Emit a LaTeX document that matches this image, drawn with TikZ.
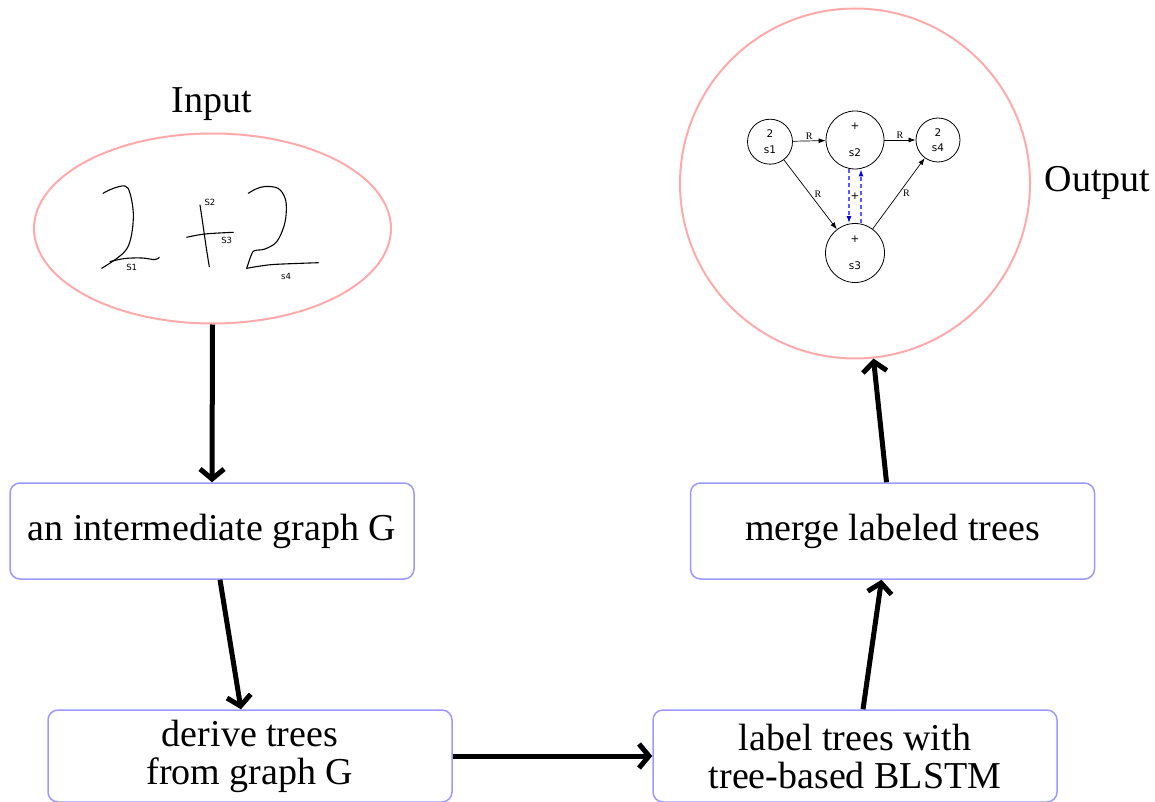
\documentclass[tikz,border=0pt]{standalone}
\usepackage{fontspec}
\setmainfont{Liberation Serif}
\newfontfamily\mysans{DejaVu Sans}
\usetikzlibrary{arrows.meta,shapes.geometric}
\definecolor{boxblue}{RGB}{153,153,255}
\definecolor{pinkline}{RGB}{255,170,170}
\definecolor{dashblue}{RGB}{90,90,255}
\definecolor{tipblue}{RGB}{0,0,230}
\begin{document}
\begin{tikzpicture}[x=1pt,y=-1pt,
  stepbox/.style={draw=boxblue,line width=1.5pt,rounded corners=10pt,minimum width=404pt,align=center,font=\fontsize{38}{38}\selectfont,inner sep=0pt},
  biglabel/.style={anchor=base,font=\fontsize{38}{38}\selectfont,inner sep=0pt},
  bigarrow/.style={line width=5pt,-{Straight Barb[length=10pt,width=24pt]}},
  mini/.style={circle,draw,line width=0.8pt,fill=white,inner sep=0pt,align=center,font=\mysans\fontsize{10.5}{15.5}\selectfont},
  miniarrow/.style={line width=0.7pt,-{Latex[length=7pt,width=5pt]}},
  rlabel/.style={font=\fontsize{10}{10}\selectfont,inner sep=1pt},
  dasharrow/.style={color=dashblue,line width=1.2pt,dash pattern=on 4pt off 3pt,-{Latex[length=7pt,width=5pt,fill=tipblue,color=tipblue]}},
  hand/.style={line width=1.1pt,line cap=round,line join=round},
  handlbl/.style={font=\mysans\fontsize{8.5}{8.5}\selectfont,inner sep=0pt}
]
\useasboundingbox (0,0) rectangle (1155,802);

% input ellipse and output circle
\node[ellipse,draw=pinkline,line width=2pt,minimum width=357pt,minimum height=190pt,inner sep=0pt] (in) at (212.5,228.5) {};
\node[circle,draw=pinkline,line width=2pt,minimum size=350pt,inner sep=0pt] (out) at (855,183.5) {};
\node[biglabel] (inlbl) at (212,112.7) {Input};
\node[biglabel] (outlbl) at (1097.5,192) {Output};

% process boxes
\node[stepbox,minimum height=96pt] (g) at (212,531) {an intermediate graph G};
\node[stepbox,minimum height=92pt] (d) at (250,756) {derive trees\\from graph G};
\node[stepbox,minimum height=92pt] (l) at (855,756) {label trees with\\tree-based BLSTM};
\node[stepbox,minimum height=96pt] (m) at (892.5,531) {merge labeled trees};

% big arrows
\draw[bigarrow] (in.south) -- (g.north);
\draw[bigarrow] ([xshift=8pt]g.south) -- ([xshift=-9pt]d.north);
\draw[bigarrow] (d.east) -- (l.west);
\draw[bigarrow] ([xshift=8pt]l.north) -- ([xshift=-11pt]m.south);
\draw[bigarrow] ([xshift=-6pt]m.north) -- (out);

% handwriting "2 + 2"
\draw[hand] plot[smooth,tension=0.6] coordinates {(103,193.3) (113,188.5) (125,186) (130,193.3) (133.3,213) (131.7,234) (126.7,249) (116,259) (101.7,268.3)};
\draw[hand] plot[smooth,tension=0.6] coordinates {(110,261.5) (125,258.5) (142,258) (155,259.6) (159.3,257.3)};
\draw[hand] plot[smooth,tension=0.6] coordinates {(200,205) (203,225) (206,246) (209.3,266.7)};
\draw[hand] plot[smooth,tension=0.6] coordinates {(186.7,237.3) (205,234) (233.3,232.3)};
\draw[hand] plot[smooth,tension=0.6] coordinates {(248.3,193.3) (256,189) (265,186.5) (278,188.3) (285,198) (286.3,211) (284,226) (276.7,241.7) (265,249) (255,250.5) (251.7,254) (246.7,268.3)};
\draw[hand] plot[smooth,tension=0.6] coordinates {(246.7,268.3) (262,265.8) (276.7,264.3) (318.3,262.7)};
\node[handlbl] (h1) at (131.7,267) {S1};
\node[handlbl] (h2) at (210,202.5) {S2};
\node[handlbl] (h3) at (226.7,240) {S3};
\node[handlbl] (h4) at (286,276.5) {s4};

% output graph
\node[mini,minimum size=45pt] (s1) at (770,141.7) {2\\s1};
\node[mini,minimum size=58pt] (s2) at (855,140) {+\\[12pt]s2};
\node[mini,minimum size=44pt] (s4) at (938,140) {2\\s4};
\node[mini,minimum size=59pt] (s3) at (855,253) {+\\[12pt]s3};
\draw[miniarrow] (s1) -- node[rlabel,above] {R} (s2);
\draw[miniarrow] (s2) -- node[rlabel,above] {R} (s4);
\draw[miniarrow] (s1) -- node[rlabel,right=3pt] {R} (s3);
\draw[miniarrow] (s3) -- node[rlabel,right=3pt] {R} (s4);
\draw[dasharrow] ([xshift=-6pt]s2.south) -- ([xshift=-6pt]s3.north);
\draw[dasharrow] ([xshift=6pt]s3.north) -- ([xshift=6pt]s2.south);
\node[font=\mysans\fontsize{10.5}{10.5}\selectfont,inner sep=0pt] (plus) at (855,196) {+};
\end{tikzpicture}
\end{document}
